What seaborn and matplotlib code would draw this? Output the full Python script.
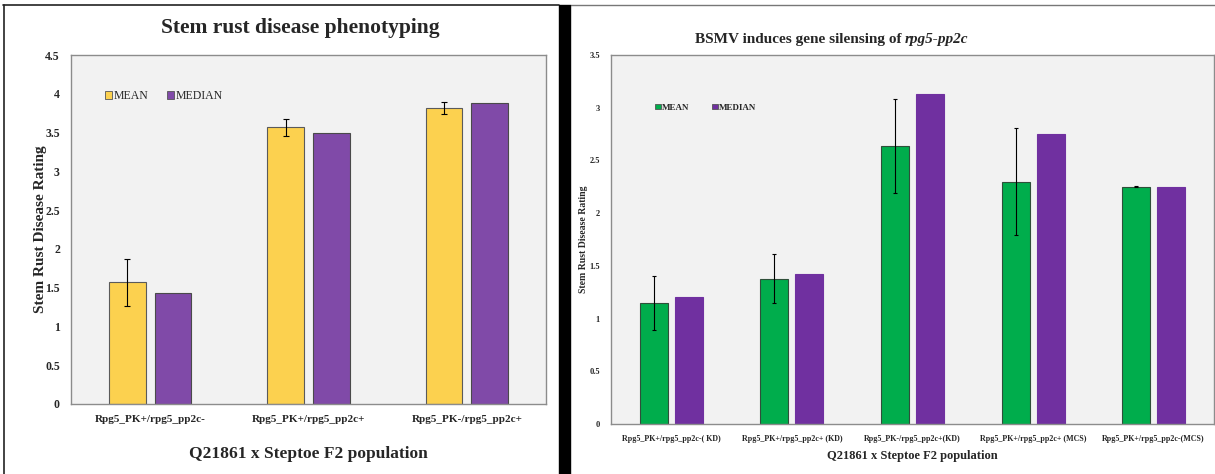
import matplotlib
matplotlib.use("Agg")
import matplotlib.pyplot as plt
import seaborn as sns
import pandas as pd
from matplotlib.patches import Rectangle, Patch
from matplotlib.lines import Line2D

# ---------------- data ----------------
left_categories = ["Rpg5_PK+/rpg5_pp2c-", "Rpg5_PK+/rpg5_pp2c+", "Rpg5_PK-/rpg5_pp2c+"]
left_mean = [1.57, 3.57, 3.82]
left_mean_err = [0.30, 0.11, 0.08]
left_median = [1.43, 3.50, 3.88]
left_ticks = [0, 0.5, 1, 1.5, 2, 2.5, 3, 3.5, 4, 4.5]
left_tick_labels = ["0", "0.5", "1", "1.5", "2", "2.5", "3", "3.5", "4", "4.5"]

right_categories = ["Rpg5_PK+/rpg5_pp2c-( KD)", "Rpg5_PK+/rpg5_pp2c+ (KD)",
                    "Rpg5_PK-/rpg5_pp2c+(KD)", "Rpg5_PK+/rpg5_pp2c+ (MCS)",
                    "Rpg5_PK+/rpg5_pp2c-(MCS)"]
right_mean = [1.145, 1.38, 2.635, 2.30, 2.25]
right_mean_err = [0.255, 0.23, 0.445, 0.51, 0.004]
right_median = [1.20, 1.42, 3.13, 2.75, 2.25]
right_ticks = [0, 0.5, 1, 1.5, 2, 2.5, 3, 3.5]
right_tick_labels = ["0", "0.5", "1", "1.5", "2", "2.5", "3", "3.5"]

series_names = ["MEAN", "MEDIAN"]

# ---------------- style ----------------
sns.set_style("white")
plt.rcParams["font.family"] = ["Liberation Serif", "DejaVu Serif"]

W, H = 1215, 474
fig = plt.figure(figsize=(W / 100, H / 100), dpi=100)


def fx(px):
    return px / W


def fy(py):
    return 1 - py / H


def panel(ax, cats, mean, err, median, colors, edgecols, ticks, tlabels, ymax,
          tick_fs, xtick_fs, ylab_fs, xlab_fs, capsize, legend_bold, leg_pos, leg_fs,
          ylabpad, xlabpad, colspace):
    df = pd.DataFrame({
        "cat": cats * 2,
        "val": list(mean) + list(median),
        "stat": [series_names[0]] * len(cats) + [series_names[1]] * len(cats),
    })
    sns.barplot(data=df, x="cat", y="val", hue="stat", order=cats,
                hue_order=series_names, palette=colors, width=0.58, gap=0.2,
                ax=ax, legend=False, errorbar=None, saturation=1)
    for cont, ec in zip(ax.containers, edgecols):
        for p in cont:
            p.set_edgecolor(ec)
            p.set_linewidth(0.8)
    # error bars on MEAN bars, positioned from the drawn bars
    xs = [p.get_x() + p.get_width() / 2 for p in ax.containers[0]]
    ax.errorbar(xs, mean, yerr=err, fmt="none", ecolor="black",
                elinewidth=0.8, capsize=capsize, capthick=0.8, zorder=5)
    ax.set_facecolor("#f2f2f2")
    ax.set_ylim(0, ymax)
    ax.set_xlim(-0.5, len(cats) - 0.5)
    ax.set_yticks(ticks)
    ax.set_yticklabels(tlabels, fontsize=tick_fs, fontweight="bold")
    ax.set_xticks(range(len(cats)))
    ax.set_xticklabels(cats, fontsize=xtick_fs, fontweight="bold")
    ax.tick_params(axis="both", length=0, pad=8)
    for s in ax.spines.values():
        s.set_color("#8c8c8c")
        s.set_linewidth(1.0)
    ax.set_xlabel("Q21861 x Steptoe F2 population", fontsize=xlab_fs,
                  fontweight="bold", labelpad=xlabpad)
    ax.set_ylabel("Stem Rust Disease Rating", fontsize=ylab_fs,
                  fontweight="bold", labelpad=ylabpad)
    handles = [Patch(facecolor=colors[i], edgecolor="#555555", linewidth=0.6,
                     label=series_names[i]) for i in range(2)]
    ax.legend(handles=handles, loc="upper left", bbox_to_anchor=leg_pos,
              ncol=2, frameon=False, handlelength=0.6, handleheight=0.6,
              handletextpad=0.1, columnspacing=colspace,
              prop={"size": leg_fs,
                    "weight": "bold" if legend_bold else "normal"})
    return ax


# left panel axes: x 71-546, y 55-404
axL = fig.add_axes([fx(71), fy(404), fx(546) - fx(71), fy(55) - fy(404)])
panel(axL, left_categories, left_mean, left_mean_err, left_median,
      ["#fcd14f", "#804aa8"], ["#5a5a5a", "#4a4a4a"],
      left_ticks, left_tick_labels, 4.5,
      tick_fs=8.5, xtick_fs=8, ylab_fs=11, xlab_fs=12.5, capsize=2.5,
      legend_bold=False, leg_pos=(0.05, 0.93), leg_fs=8.5,
      ylabpad=-1, xlabpad=16, colspace=1.6)
fig.text(fx(300), fy(28), "Stem rust disease phenotyping", ha="center",
         va="center", fontsize=15.5, fontweight="bold")

# right panel axes: x 611-1214, y 55-424
axR = fig.add_axes([fx(611), fy(424), fx(1214) - fx(611), fy(55) - fy(424)])
panel(axR, right_categories, right_mean, right_mean_err, right_median,
      ["#00ad4c", "#7030a0"], ["#2f4f3a", "#7030a0"],
      right_ticks, right_tick_labels, 3.5,
      tick_fs=6, xtick_fs=5.8, ylab_fs=7, xlab_fs=9, capsize=1.2,
      legend_bold=True, leg_pos=(0.06, 0.89), leg_fs=6.5,
      ylabpad=1, xlabpad=5, colspace=2.6)
fig.text(fx(905), fy(40), "BSMV induces gene silensing of ", ha="right",
         va="center", fontsize=11, fontweight="bold")
fig.text(fx(905), fy(40), "rpg5-pp2c", ha="left", va="center", fontsize=11,
         fontweight="bold", fontstyle="italic")

# frame and separator
fig.add_artist(Line2D([fx(3), fx(559)], [fy(4.5), fy(4.5)], color="#222222", lw=1.2))
fig.add_artist(Line2D([fx(3.5), fx(3.5)], [fy(4.5), 0], color="#222222", lw=1.2))
fig.add_artist(Line2D([fx(570), 1], [fy(4.5), fy(4.5)], color="#777777", lw=1.0))
fig.add_artist(Rectangle((fx(559), 0), fx(570) - fx(559), fy(4.5),
                         transform=fig.transFigure, color="black", zorder=10))

fig.savefig("out.png", dpi=100)
